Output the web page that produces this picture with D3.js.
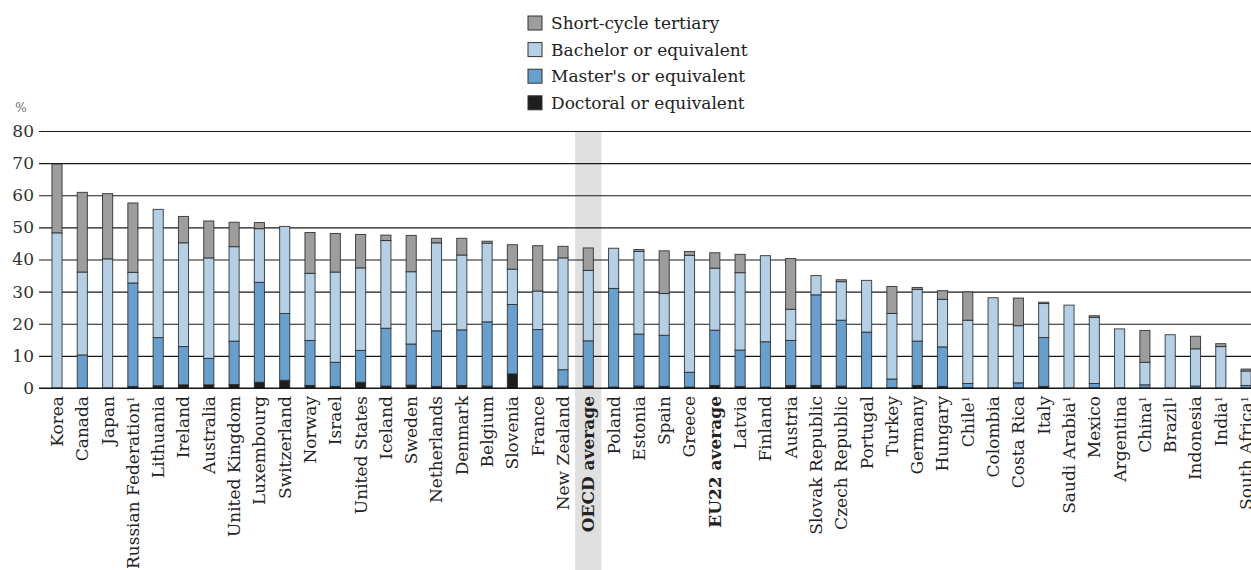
<!DOCTYPE html>
<html>
<head>
<meta charset="utf-8">
<script src="https://cdn.jsdelivr.net/npm/d3@7"></script>
<style>
	body { margin: 0; background: #fff; }
	#chart { width: 1251px; height: 570px; }
	text { font-family: "DejaVu Serif", serif; }
</style>
</head>
<body>
<div id="chart"></div>
<script>
(function (d3) {
	'use strict';

	// DATA
	const countries = ["Korea", "Canada", "Japan", "Russian Federation", "Lithuania", "Ireland", "Australia",
		"United Kingdom", "Luxembourg", "Switzerland", "Norway", "Israel", "United States", "Iceland", "Sweden",
		"Netherlands", "Denmark", "Belgium", "Slovenia", "France", "New Zealand", "OECD average", "Poland",
		"Estonia", "Spain", "Greece", "EU22 average", "Latvia", "Finland", "Austria", "Slovak Republic",
		"Czech Republic", "Portugal", "Turkey", "Germany", "Hungary", "Chile", "Colombia", "Costa Rica", "Italy",
		"Saudi Arabia", "Mexico", "Argentina", "China", "Brazil", "Indonesia", "India", "South Africa"];
	const footnoted = ["Russian Federation", "Chile", "Saudi Arabia", "China", "Brazil", "India", "South Africa"];
	const averages = ["OECD average", "EU22 average"];

	const doctoral = [0, 0, 0, 0.5, 0.7, 1.0, 1.0, 1.1, 1.8, 2.4, 0.8, 0.5, 1.8, 0.6, 0.9,
		0.5, 0.8, 0.6, 4.4, 0.6, 0.6, 0.6, 0.3, 0.6, 0.5, 0.3, 0.8, 0.5, 0.3, 0.8, 0.8,
		0.6, 0.1, 0.1, 0.8, 0.5, 0.1, 0, 0, 0.5, 0, 0, 0, 0, 0, 0, 0, 0];
	const masters = [0, 10.3, 0, 32.2, 15.0, 11.9, 8.2, 13.5, 31.1, 20.8, 14.0, 7.5, 9.9, 18.0, 12.8,
		17.3, 17.3, 20.0, 21.6, 17.6, 5.1, 14.1, 30.7, 16.2, 15.9, 4.6, 17.2, 11.3, 14.1, 14.0, 28.2,
		20.5, 17.3, 2.7, 13.8, 12.3, 1.3, 0, 1.6, 15.2, 0, 1.4, 0, 1.0, 0, 0.6, 0, 0.8];
	const bachelor = [48.3, 25.8, 40.2, 3.3, 39.9, 32.3, 31.3, 29.4, 16.7, 27.1, 20.9, 28.1, 25.7, 27.3, 22.5,
		27.4, 23.3, 24.5, 11.0, 12.0, 34.8, 21.9, 12.5, 25.7, 13.0, 36.4, 19.3, 24.1, 26.8, 9.7, 6.0,
		12.0, 16.1, 20.4, 16.1, 14.8, 19.7, 28.1, 17.8, 10.6, 25.8, 20.6, 18.4, 7.0, 16.6, 11.6, 12.9, 4.5];
	const shortCycle = [21.4, 24.8, 20.3, 21.6, 0, 8.2, 11.5, 7.6, 1.9, 0, 12.7, 12.0, 10.4, 1.7, 11.3,
		1.4, 5.2, 0.6, 7.6, 14.1, 3.6, 7.0, 0, 0.6, 13.3, 1.2, 4.8, 5.7, 0, 15.8, 0,
		0.6, 0, 8.4, 0.6, 2.7, 8.8, 0, 8.6, 0.4, 0, 0.5, 0, 9.9, 0, 3.9, 0.9, 0.6];

	const seriesKeys = ["doctoral", "masters", "bachelor", "shortCycle"];
	const seriesColor = {
		doctoral: "#1e1e1e",
		masters: "#67a0cf",
		bachelor: "#b4d0e7",
		shortCycle: "#9d9d9d"
	};
	const legendItems = [
		{ key: "shortCycle", label: "Short-cycle tertiary" },
		{ key: "bachelor", label: "Bachelor or equivalent" },
		{ key: "masters", label: "Master's or equivalent" },
		{ key: "doctoral", label: "Doctoral or equivalent" }
	];
	const yTicks = [0, 10, 20, 30, 40, 50, 60, 70, 80];

	const rows = countries.map((c, i) => ({
		country: c,
		doctoral: doctoral[i],
		masters: masters[i],
		bachelor: bachelor[i],
		shortCycle: shortCycle[i]
	}));

	const width = 1251;
	const height = 570;
	const svg = d3.select("#chart").append("svg")
		.attr("width", width)
		.attr("height", height);

	// scales
	const xScale = d3.scaleBand()
		.domain(countries)
		.range([44.35, 1258.75])
		.paddingInner(0.6)
		.paddingOuter(0.3);
	const yScale = d3.scaleLinear()
		.domain([0, 80])
		.range([388, 131]);
	const axisLeftX = 39;

	// highlight band behind OECD average
	svg.append("rect")
		.attr("x", xScale("OECD average") + xScale.bandwidth() / 2 - xScale.step() / 2 - 0.5)
		.attr("y", yScale(80))
		.attr("width", xScale.step() + 1)
		.attr("height", height - yScale(80))
		.attr("fill", "#e0e0e0");

	// gridlines + y labels
	const yAxisG = svg.append("g")
		.attr("transform", `translate(${axisLeftX},0)`)
		.call(d3.axisLeft(yScale)
			.tickValues(yTicks)
			.tickSize(-(width - axisLeftX))
			.tickPadding(5)
			.tickFormat(d3.format("d")));
	yAxisG.select(".domain").remove();
	yAxisG.selectAll(".tick line").attr("stroke", "#1a1a1a").attr("stroke-width", 1.1);
	yAxisG.selectAll(".tick text")
		.attr("fill", "#333")
		.style("font-size", "17px")
		.style("font-family", "DejaVu Serif, serif");

	svg.append("text")
		.attr("x", 21)
		.attr("y", 112)
		.attr("text-anchor", "middle")
		.attr("fill", "#666")
		.style("font-size", "12px")
		.text("%");

	// stacked bars
	const stacked = d3.stack().keys(seriesKeys)(rows);
	svg.append("g").selectAll("g")
		.data(stacked)
		.join("g")
		.attr("fill", d => seriesColor[d.key])
		.selectAll("rect")
		.data(d => d.filter(p => p[1] - p[0] > 0))
		.join("rect")
		.attr("x", d => xScale(d.data.country))
		.attr("y", d => yScale(d[1]))
		.attr("width", xScale.bandwidth())
		.attr("height", d => yScale(d[0]) - yScale(d[1]))
		.attr("stroke", "#2a2a2a")
		.attr("stroke-opacity", 0.85)
		.attr("stroke-width", 1);

	// baseline
	svg.append("line")
		.attr("x1", axisLeftX)
		.attr("x2", width)
		.attr("y1", yScale(0))
		.attr("y2", yScale(0))
		.attr("stroke", "#111")
		.attr("stroke-width", 1.2);

	// category labels
	const labels = svg.append("g").selectAll("text")
		.data(countries)
		.join("text")
		.attr("transform", d => `translate(${xScale(d) + xScale.bandwidth() / 2},396) rotate(-90)`)
		.attr("dy", "0.35em")
		.attr("text-anchor", "end")
		.attr("fill", "#222")
		.style("font-size", "17px")
		.style("font-weight", d => averages.includes(d) ? "bold" : "normal");
	labels.append("tspan").text(d => d);
	labels.filter(d => footnoted.includes(d))
		.append("tspan")
		.attr("dy", "-0.45em")
		.style("font-size", "10px")
		.text("1");

	// legend
	const legend = svg.append("g").selectAll("g")
		.data(legendItems)
		.join("g")
		.attr("transform", (d, i) => `translate(528,${16 + i * 26.6})`);
	legend.append("rect")
		.attr("width", 14)
		.attr("height", 14)
		.attr("fill", d => seriesColor[d.key])
		.attr("stroke", "#333")
		.attr("stroke-width", 1);
	legend.append("text")
		.attr("x", 23)
		.attr("y", 7)
		.attr("dy", "0.36em")
		.attr("fill", "#222")
		.style("font-size", "17px")
		.text(d => d.label);
}(d3));
</script>
</body>
</html>
